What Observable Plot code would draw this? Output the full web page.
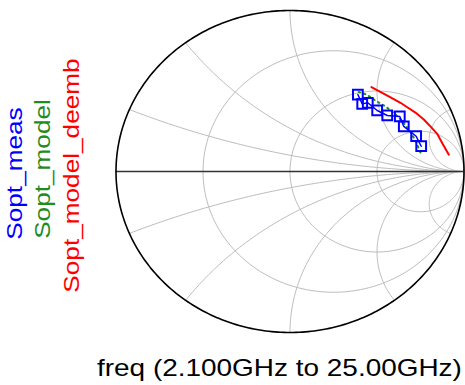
<!DOCTYPE html>
<html>
<head>
<meta charset="utf-8">
<script src="https://cdn.jsdelivr.net/npm/d3@7"></script>
<script src="https://cdn.jsdelivr.net/npm/@observablehq/plot@0.6"></script>
<style>
  html, body { margin: 0; padding: 0; background: #fff; }
  #wrap { position: relative; width: 465px; height: 385px; overflow: hidden; font-family: "Liberation Sans", Arial, sans-serif; }
  #chart { position: absolute; left: 0; top: 0; }
  .leg { position: absolute; left: 0; top: 0; white-space: nowrap; font-size: 22px; line-height: 1; transform-origin: 0 0; }
  #caption { position: absolute; left: 97px; top: 356px; white-space: nowrap; font-size: 24px; line-height: 1; color: #000; transform-origin: 0 0; transform: scaleX(1.164); }
</style>
</head>
<body>
<div id="wrap">
  <div id="chart"></div>
  <div id="legend"></div>
  <div id="caption"></div>
</div>
<script>
// ---- data (reflection coefficient, real / imaginary parts) ----
const seriesNames = ["Sopt_meas", "Sopt_model", "Sopt_model_deemb"];
const seriesColors = ["#0000ff", "#1f8c1f", "#ff0000"];
const captionText = "freq (2.100GHz to 25.00GHz)";

const measRe = [0.754, 0.725, 0.654, 0.631, 0.559, 0.501, 0.447, 0.415, 0.390];
const measIm = [0.157, 0.219, 0.280, 0.342, 0.348, 0.379, 0.427, 0.420, 0.478];

const modelRe = [0.750, 0.721, 0.687, 0.647, 0.601, 0.549, 0.491, 0.440, 0.394];
const modelIm = [0.118, 0.193, 0.255, 0.311, 0.360, 0.404, 0.441, 0.478, 0.494];

const deembRe = [0.913, 0.876, 0.846, 0.807, 0.769, 0.721, 0.674, 0.635, 0.578, 0.468];
const deembIm = [0.104, 0.174, 0.234, 0.280, 0.323, 0.366, 0.399, 0.427, 0.461, 0.524];

// Smith chart grid values
const gridR = [1/3, 1, 3];
const gridX = [0.2, 0.5, 1, 2, 5];

// ---- build tables ----
const toRows = (re, im) => re.map((v, i) => ({x: v, y: im[i]}));
const meas = toRows(measRe, measIm);
const model = toRows(modelRe, modelIm);
const deemb = toRows(deembRe, deembIm);

const grid = [];
gridR.forEach((r, k) => {
  const c = r / (1 + r), rad = 1 / (1 + r);
  for (let a = 0; a <= 360; a += 2) {
    const t = a * Math.PI / 180;
    grid.push({x: c + rad * Math.cos(t), y: rad * Math.sin(t), id: "r" + k});
  }
});
gridX.forEach((xv, k) => {
  const cy = 1 / xv, rad = 1 / xv;
  const px = (xv * xv - 1) / (xv * xv + 1), py = 2 * xv / (xv * xv + 1);
  let phi = Math.atan2(py - cy, px - 1);
  if (phi < 0) phi += 2 * Math.PI;
  const end = 1.5 * Math.PI;
  const n = 90;
  for (const s of [1, -1]) {
    for (let i = 0; i <= n; i++) {
      const t = phi + (end - phi) * i / n;
      grid.push({x: 1 + rad * Math.cos(t), y: s * (cy + rad * Math.sin(t)), id: "x" + k + (s > 0 ? "p" : "n")});
    }
  }
});
const outer = d3.range(0, 361, 1).map(a => ({x: Math.cos(a * Math.PI / 180), y: Math.sin(a * Math.PI / 180)}));

const plot = Plot.plot({
  width: 465,
  height: 345,
  marginLeft: 115.5,
  marginRight: 1.5,
  marginTop: 10,
  marginBottom: 13,
  x: {domain: [-1, 1], axis: null},
  y: {domain: [-1, 1], axis: null},
  style: {background: "transparent", overflow: "visible"},
  marks: [
    Plot.line(grid, {x: "x", y: "y", z: "id", stroke: "#bdbdbd", strokeWidth: 1}),
    Plot.ruleY([0], {stroke: "#333", strokeWidth: 1.3}),
    Plot.line(outer, {x: "x", y: "y", stroke: "#000", strokeWidth: 1.6}),
    Plot.line(deemb, {x: "x", y: "y", stroke: seriesColors[2], strokeWidth: 2}),
    Plot.line(model, {x: "x", y: "y", stroke: seriesColors[1], strokeWidth: 2, strokeDasharray: "1.5 4", strokeLinecap: "round"}),
    Plot.line(meas, {x: "x", y: "y", stroke: seriesColors[0], strokeWidth: 1.5}),
    Plot.dot(meas, {x: "x", y: "y", symbol: "square", r: 5.5, stroke: seriesColors[0], strokeWidth: 2, fill: "none"})
  ]
});
document.getElementById("chart").appendChild(plot);

// ---- legend (rotated labels at left) ----
const legPos = [[15, 173.5], [43, 169], [72, 175.5]];
const legend = document.getElementById("legend");
seriesNames.forEach((name, i) => {
  const s = document.createElement("span");
  s.className = "leg";
  s.textContent = name;
  s.style.color = seriesColors[i];
  s.style.transform = `translate(${legPos[i][0]}px, ${legPos[i][1]}px) rotate(-90deg) scaleX(1.19) translate(-50%, -50%)`;
  legend.appendChild(s);
});
document.getElementById("caption").textContent = captionText;
</script>
</body>
</html>
